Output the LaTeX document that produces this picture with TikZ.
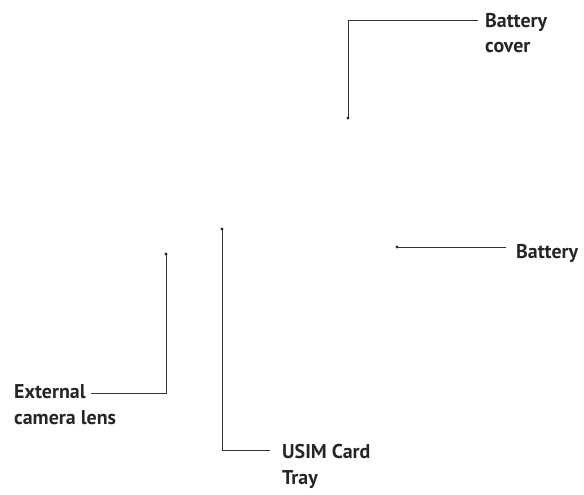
\documentclass[tikz,border=0pt]{standalone}
\usepackage{fontspec}
\setmainfont{PT Sans}
\usetikzlibrary{positioning}
\tikzstyle{lbl} = [font=\bfseries\fontsize{20}{26}\selectfont, align=left, inner sep=0pt, anchor=base west, text=black!85]
\tikzstyle{lead} = [draw=black!80, line width=0.8pt]
\tikzstyle{tip} = [circle, fill=black!85, inner sep=0pt, minimum size=3.2bp]

\begin{document}
\begin{tikzpicture}[x=1bp,y=-1bp]
\useasboundingbox (0,0) rectangle (584,495);

% battery cover (base = last line)
\node[tip] (t_1) at (348,118) {};
\coordinate (e_1) at (478,20);
\node[lbl] (cover) at (485,53) {Battery\\cover};
\draw[lead] (t_1.center) |- (e_1);

% battery
\node[tip] (t_2) at (397,247) {};
\coordinate (e_2) at (506,247);
\node[lbl] (battery) at (516,258) {Battery};
\draw[lead] (t_2.center) -- (e_2);

% external camera lens
\node[tip] (t_3) at (166,254) {};
\coordinate (e_3) at (91,393);
\node[lbl] (lens) at (14,424) {External\\camera lens};
\draw[lead] (t_3.center) |- (e_3);

% usim card tray
\node[tip] (t_4) at (222,229) {};
\coordinate (e_4) at (270,450);
\node[lbl] (usim) at (282,484) {USIM Card\\Tray};
\draw[lead] (t_4.center) |- (e_4);

\end{tikzpicture}
\end{document}
